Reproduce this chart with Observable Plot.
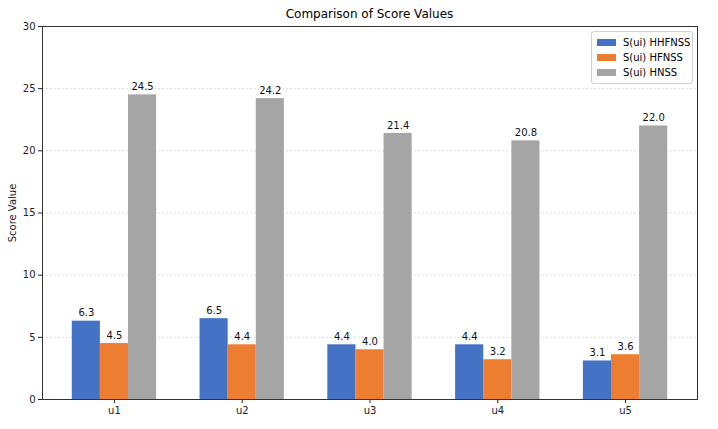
<!DOCTYPE html>
<html>
<head>
<meta charset="utf-8">
<script src="https://cdn.jsdelivr.net/npm/d3@7"></script>
<script src="https://cdn.jsdelivr.net/npm/@observablehq/plot@0.6"></script>
<style>
  body { margin: 0; background: #fff; font-family: "DejaVu Sans", sans-serif; }
  #wrap { position: relative; width: 718px; height: 429px; }
  #title { position: absolute; left: 42px; width: 655px; top: 7px; text-align: center; font-size: 12px; color: #000; }
  #legend { position: absolute; left: 591px; top: 31px; width: 100px; padding: 3px 0 3px 0; border: 1px solid #d0d0d0; border-radius: 3px; background: rgba(255,255,255,0.85); font-size: 10px; }
  .row { display: flex; align-items: center; height: 15px; padding-left: 5px; }
  .sw { width: 19px; height: 7px; margin-right: 7px; }
</style>
</head>
<body>
<div id="wrap">
  <div id="chart"></div>
  <div id="title"></div>
  <div id="legend"></div>
</div>
<script>
const categories = ["u1", "u2", "u3", "u4", "u5"];
const seriesNames = ["S(ui) HHFNSS", "S(ui) HFNSS", "S(ui) HNSS"];
const hhfnss = [6.3, 6.5, 4.4, 4.4, 3.1];
const hfnss = [4.5, 4.4, 4.0, 3.2, 3.6];
const hnss = [24.5, 24.2, 21.4, 20.8, 22.0];
const colors = ["#4472C4", "#ED7D31", "#A5A5A5"];
const yTicks = [0, 5, 10, 15, 20, 25, 30];
const titleText = "Comparison of Score Values";
const yLabel = "Score Value";

const barWidth = 0.22;
const offsets = [-0.22, 0, 0.22];
const seriesValues = [hhfnss, hfnss, hnss];
const data = [];
seriesValues.forEach((vals, s) => {
  vals.forEach((v, i) => {
    data.push({
      cat: categories[i], series: seriesNames[s], value: v,
      xc: i + offsets[s], x1: i + offsets[s] - barWidth / 2, x2: i + offsets[s] + barWidth / 2
    });
  });
});

const plot = Plot.plot({
  width: 718,
  height: 429,
  marginLeft: 42,
  marginRight: 21,
  marginTop: 26,
  marginBottom: 30,
  style: { fontFamily: "DejaVu Sans, sans-serif", fontSize: "10px", color: "#222", background: "white" },
  x: { domain: [-0.563, 4.563] },
  y: { domain: [0, 30] },
  color: { domain: seriesNames, range: colors },
  marks: [
    Plot.gridY(yTicks.slice(1, -1), { stroke: "#c8c8c8", strokeOpacity: 1, strokeDasharray: "2,2", strokeWidth: 0.6 }),
    Plot.rectY(data, { x1: "x1", x2: "x2", y1: 0, y2: "value", fill: "series" }),
    Plot.text(data, { x: "xc", y: "value", text: d => d.value.toFixed(1), dy: -8, fontSize: 10, fill: "#111" }),
    Plot.axisY({ ticks: yTicks, tickSize: 4, tickPadding: 3, label: yLabel, labelAnchor: "center", labelArrow: "none", labelOffset: 34 }),
    Plot.axisX({ ticks: [0, 1, 2, 3, 4], tickFormat: i => categories[i], tickSize: 4, tickPadding: 3, label: null }),
    Plot.frame({ stroke: "#333", strokeWidth: 1 })
  ]
});
document.getElementById("chart").appendChild(plot);
document.getElementById("title").textContent = titleText;
const legend = document.getElementById("legend");
seriesNames.forEach((n, i) => {
  const row = document.createElement("div");
  row.className = "row";
  const sw = document.createElement("div");
  sw.className = "sw";
  sw.style.background = colors[i];
  const t = document.createElement("span");
  t.textContent = n;
  row.appendChild(sw); row.appendChild(t);
  legend.appendChild(row);
});
</script>
</body>
</html>
